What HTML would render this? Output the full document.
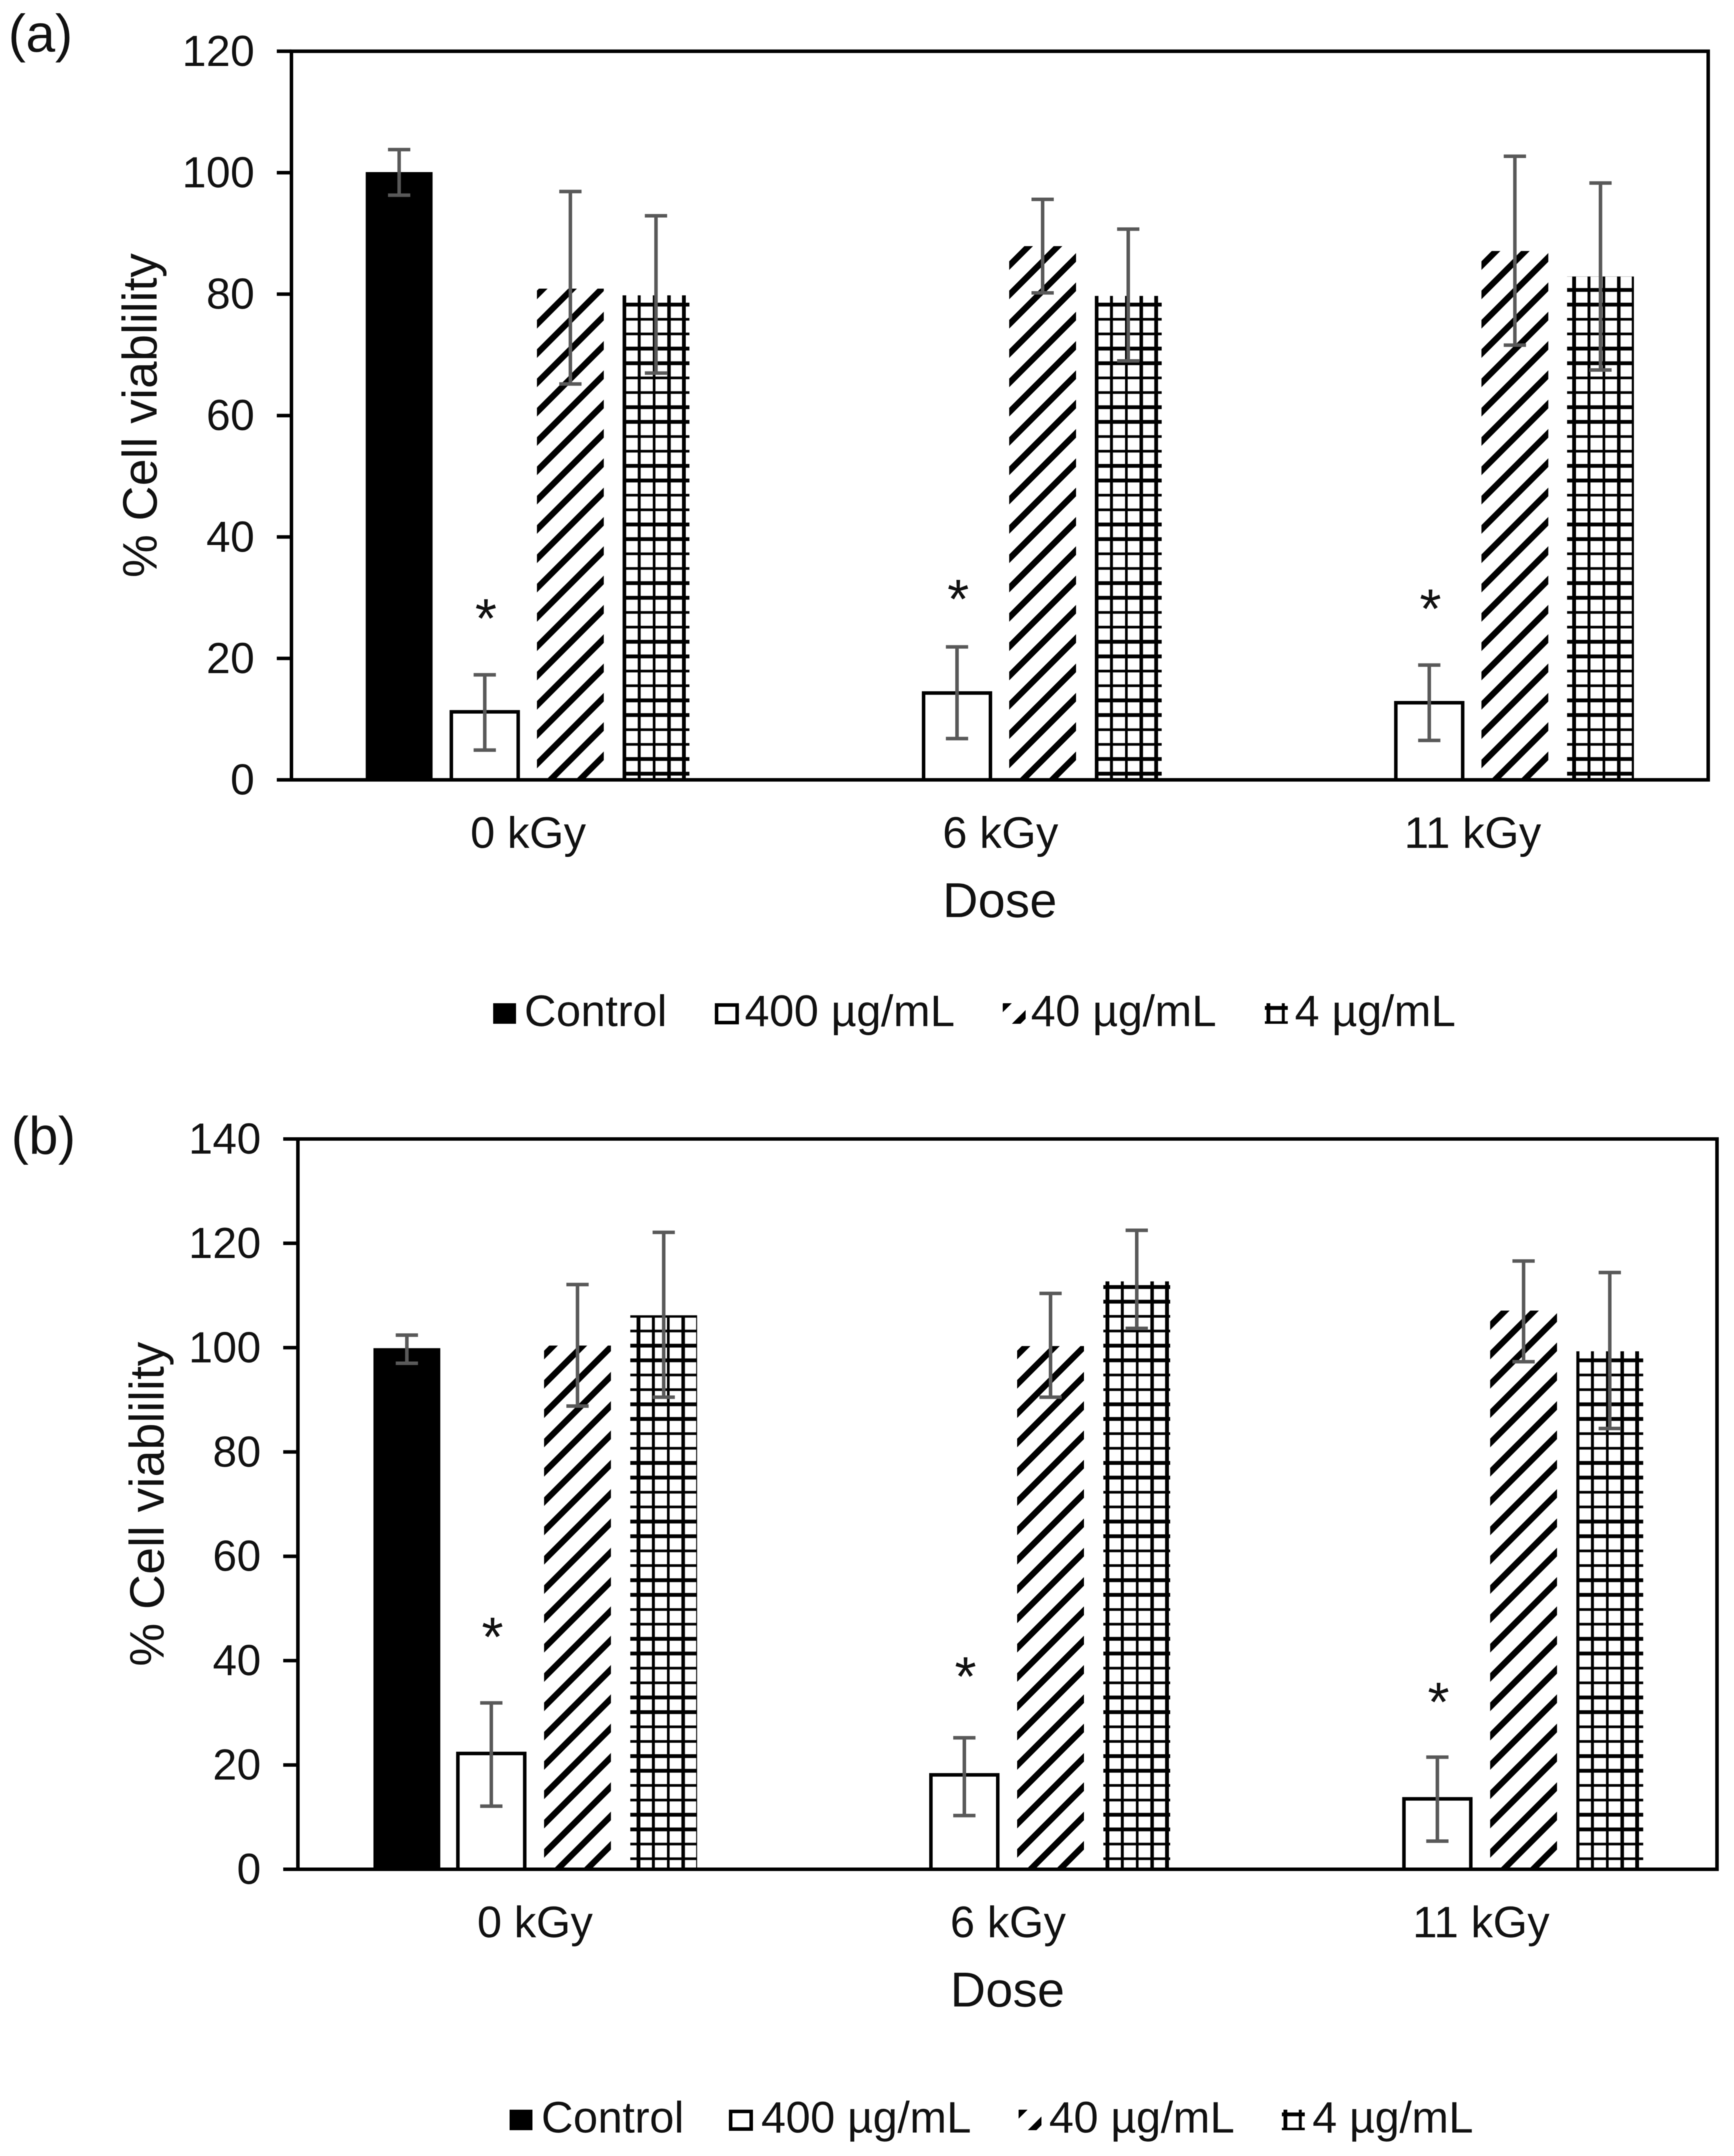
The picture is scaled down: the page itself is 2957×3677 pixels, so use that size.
<!DOCTYPE html>
<html lang="en">
<head>
<meta charset="utf-8">
<title>% Cell viability by dose</title>
<style>
html,body{margin:0;padding:0;background:#fff;}
svg{display:block;filter:blur(0.8px);}
text{font-family:"Liberation Sans",sans-serif;fill:#111;}
</style>
</head>
<body>
<svg id="figure" xmlns="http://www.w3.org/2000/svg" width="2957" height="3677" viewBox="0 0 2957 3677">
<rect width="2957" height="3677" fill="#fff"/>
</svg>
<script>
const categories = ["0 kGy", "6 kGy", "11 kGy"];
const seriesNames = ["Control", "400 µg/mL", "40 µg/mL", "4 µg/mL"];
const ticksA = [0, 20, 40, 60, 80, 100, 120];
const ticksB = [0, 20, 40, 60, 80, 100, 120, 140];

const a_control = [100.1, null, null];
const a_control_high = [103.8, null, null];
const a_control_low = [96.3, null, null];
const a_400 = [11.2, 14.3, 12.7];
const a_400_high = [17.3, 21.9, 18.9];
const a_400_low = [4.9, 6.8, 6.5];
const a_40 = [80.9, 87.9, 87.1];
const a_40_high = [96.9, 95.6, 102.7];
const a_40_low = [65.2, 80.2, 71.6];
const a_4 = [79.8, 79.7, 82.9];
const a_4_high = [92.9, 90.7, 98.3];
const a_4_low = [67.0, 69.0, 67.5];
const a_significance = [27.8, 31.0, 29.4];

const b_control = [99.9, null, null];
const b_control_high = [102.4, null, null];
const b_control_low = [97.0, null, null];
const b_400 = [22.2, 18.1, 13.5];
const b_400_high = [31.9, 25.2, 21.5];
const b_400_low = [12.1, 10.3, 5.4];
const b_40 = [100.4, 100.3, 107.1];
const b_40_high = [112.1, 110.4, 116.6];
const b_40_low = [88.8, 90.5, 97.3];
const b_4 = [106.2, 112.7, 99.3];
const b_4_high = [122.1, 122.5, 114.4];
const b_4_low = [90.5, 103.7, 84.5];
const b_significance = [46.0, 38.4, 33.5];

const NS = "http://www.w3.org/2000/svg";
const root = document.getElementById("figure");
const defs = document.createElementNS(NS, "defs");
root.appendChild(defs);
let patternCount = 0;

function make(tag, props, parent) {
  const node = document.createElementNS(NS, tag);
  for (const k in props) node.setAttribute(k, props[k]);
  (parent || root).appendChild(node);
  return node;
}

function hatchPattern(x, y) {
  const id = "hatch" + (patternCount++);
  const p = make("pattern", {id: id, patternUnits: "userSpaceOnUse", x: x, y: y, width: 50, height: 50}, defs);
  make("rect", {width: 50, height: 50, fill: "#fff"}, p);
  make("path", {d: "M-8,8L8,-8M-8,58L58,-8M42,58L58,42", stroke: "#000", "stroke-width": 10.5, fill: "none"}, p);
  return "url(#" + id + ")";
}

function gridPattern(x, y, rowShift) {
  const id = "grid" + (patternCount++);
  const pw = 25.4;
  const p = make("pattern", {id: id, patternUnits: "userSpaceOnUse", x: x - pw / 2, y: y - rowShift, width: pw * 4, height: 100}, defs);
  make("rect", {width: pw * 4, height: 100, fill: "#fff"}, p);
  const rowWidths = [6.5, 6.5, 4.5, 4.5];
  const colWidths = [6.5, 5, 4.5, 6];
  rowWidths.forEach(function (w, i) {
    const yy = 12.5 + i * 25;
    make("line", {x1: 0, x2: pw * 4, y1: yy, y2: yy, stroke: "#000", "stroke-width": w}, p);
  });
  colWidths.forEach(function (w, i) {
    const xx = pw / 2 + i * pw;
    make("line", {x1: xx, x2: xx, y1: 0, y2: 100, stroke: "#000", "stroke-width": w}, p);
  });
  return "url(#" + id + ")";
}

function renderPanel(cfg) {
  const g = make("g", {});
  
  

  const yScale = function (v) { return cfg.bottom - (v / cfg.yMax) * (cfg.bottom - cfg.top); };
  const catWidth = (cfg.right - cfg.left) / categories.length;
  const xCenter = function (c) { return cfg.left + catWidth * (c + 0.5); };
  const barLeft = function (c, s) {
    return xCenter(c) + (s - 1.5) * cfg.step - cfg.barWidth / 2 + (s === 0 ? cfg.controlNudge : 0);
  };

  const letter = make("text", {x: cfg.letterX, y: cfg.letterY, "font-size": 90}, g);
  letter.textContent = cfg.letter;
  
  

  cfg.series.forEach(function (series, s) {
    series.values.forEach(function (v, c) {
      if (v === null) return;
      const x = barLeft(c, s);
      const y = yScale(v);
      const h = cfg.bottom - y;
      let fill = "#000", stroke = "none", sw = 0;
      if (s === 1) { fill = "#fff"; stroke = "#000"; sw = 6; }
      if (s === 2) { fill = hatchPattern(x, cfg.bottom - 27); }
      if (s === 3) { fill = gridPattern(x + cfg.gridPhase[c], cfg.bottom - cfg.gridRow, cfg.gridShift); }
      const bar = make("rect", {x: x, y: y, width: cfg.barWidth, height: h, fill: fill, stroke: stroke, "stroke-width": sw}, g);
      
      
    });
  });

  cfg.series.forEach(function (series, s) {
    series.values.forEach(function (v, c) {
      if (v === null) return;
      const cx = barLeft(c, s) + cfg.barWidth / 2;
      const yHi = yScale(series.high[c]);
      const yLo = yScale(series.low[c]);
      const err = make("path", {
        d: "M" + cx + "," + yHi + "V" + yLo + "M" + (cx - 19) + "," + yHi + "H" + (cx + 19) + "M" + (cx - 19) + "," + yLo + "H" + (cx + 19),
        stroke: "#595959", "stroke-width": 6, fill: "none"
      }, g);
      
      
    });
  });

  cfg.significance.forEach(function (v, c) {
    const star = make("text", {x: barLeft(c, 1) + cfg.barWidth / 2 + 2, y: yScale(v) + 45, "font-size": 95, "text-anchor": "middle"}, g);
    star.textContent = "*";
    
    
  });

  const frame = make("rect", {x: cfg.left, y: cfg.top, width: cfg.right - cfg.left, height: cfg.bottom - cfg.top, fill: "none", stroke: "#000", "stroke-width": 6}, g);
  
  

  cfg.ticks.forEach(function (t) {
    const y = yScale(t);
    const mark = make("line", {x1: cfg.left - 25, x2: cfg.left, y1: y, y2: y, stroke: "#000", "stroke-width": 6}, g);
    
    
    const label = make("text", {x: cfg.left - 63, y: y + 25, "font-size": 74, "text-anchor": "end"}, g);
    label.textContent = t;
    
    
  });

  categories.forEach(function (cat, c) {
    const label = make("text", {x: xCenter(c) + 1, y: cfg.bottom + 116, "font-size": 75.5, "text-anchor": "middle"}, g);
    label.textContent = cat;
    
    
  });

  const xTitle = make("text", {x: (cfg.left + cfg.right) / 2, y: cfg.bottom + 234, "font-size": 83.5, "text-anchor": "middle"}, g);
  xTitle.textContent = "Dose";
  
  

  const yMid = (cfg.top + cfg.bottom) / 2;
  const yTitle = make("text", {x: 0, y: 0, "font-size": 83, "text-anchor": "middle", transform: "translate(" + cfg.yTitleX + "," + yMid + ") rotate(-90)"}, g);
  yTitle.textContent = "% Cell viablility";
  
  

  seriesNames.forEach(function (name, s) {
    const sx = cfg.legendSwatchX[s];
    const sy = cfg.legendY - 39;
    let fill = "#000", stroke = "none", sw = 0, w = 39, h = 35, x = sx, y = sy;
    if (s === 1) { fill = "#fff"; stroke = "#000"; sw = 6; x = sx + 3; y = sy + 3; w = 35; h = 30; }
    if (s === 2) { fill = hatchPattern(sx, sy + 8); }
    if (s === 3) { fill = gridPattern(sx + 6, sy + 8, 37.5); }
    const swatch = make("rect", {x: x, y: y, width: w, height: h, fill: fill, stroke: stroke, "stroke-width": sw}, g);
    
    
    const label = make("text", {x: cfg.legendTextX[s], y: cfg.legendY, "font-size": 75.5}, g);
    label.textContent = name;
    
    
  });
}

renderPanel({
  name: "panel-a",
  letter: "(a)",
  letterX: 14, letterY: 88,
  left: 497, right: 2913, top: 87.4, bottom: 1330, yMax: 120,
  step: 146, barWidth: 114, controlNudge: 0,
  gridPhase: [3, 3, 12], gridRow: 10.5, gridShift: 37.5,
  ticks: ticksA,
  yTitleX: 267,
  legendY: 1750,
  legendSwatchX: [841, 1219, 1710, 2157],
  legendTextX: [894, 1270, 1758, 2208],
  significance: a_significance,
  series: [
    {values: a_control, high: a_control_high, low: a_control_low},
    {values: a_400, high: a_400_high, low: a_400_low},
    {values: a_40, high: a_40_high, low: a_40_low},
    {values: a_4, high: a_4_high, low: a_4_low}
  ]
});

renderPanel({
  name: "panel-b",
  letter: "(b)",
  letterX: 19, letterY: 1968,
  left: 508, right: 2928, top: 1942.5, bottom: 3188, yMax: 140,
  step: 147, barWidth: 114, controlNudge: 3,
  gridPhase: [14, 7, 2], gridRow: 18, gridShift: 87.5,
  ticks: ticksB,
  yTitleX: 279,
  legendY: 3637,
  legendSwatchX: [869, 1243, 1737, 2186],
  legendTextX: [923, 1298, 1789, 2238],
  significance: b_significance,
  series: [
    {values: b_control, high: b_control_high, low: b_control_low},
    {values: b_400, high: b_400_high, low: b_400_low},
    {values: b_40, high: b_40_high, low: b_40_low},
    {values: b_4, high: b_4_high, low: b_4_low}
  ]
});
</script>
</body>
</html>
